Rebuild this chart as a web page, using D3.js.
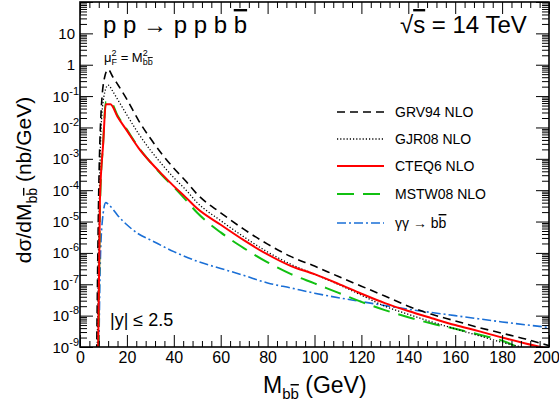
<!DOCTYPE html>
<html><head><meta charset="utf-8">
<script src="https://cdn.jsdelivr.net/npm/d3@7"></script>
<style>
body{margin:0;background:#fff}
text{font-family:"Liberation Sans",Arial,Helvetica,sans-serif;fill:#000}
</style>
</head><body>
<svg id="chart" width="559" height="419"></svg>
<script>
// ---------- data ----------
const massTicks = [0, 20, 40, 60, 80, 100, 120, 140, 160, 180, 200];
const decadeExponents = [-9, -8, -7, -6, -5, -4, -3, -2, -1, 0, 1];

const grv94Mass = [7.0, 8.0, 9.0, 10.5, 12, 14, 16, 20, 25, 30, 35, 40, 45, 50, 60, 70, 80, 90, 100, 110, 120, 130, 140, 150, 160, 170, 180, 190, 200];
const grv94Xsec = [1e-10, 1e-4, 3.2e-2, 0.40, 0.71, 0.41, 0.24, 7.9e-2, 1.66e-2, 4.5e-3, 1.4e-3, 5.0e-4, 2.0e-4, 7.4e-5, 1.9e-5, 5.6e-6, 1.9e-6, 7.6e-7, 3.8e-7, 1.8e-7, 8.7e-8, 4.2e-8, 2.0e-8, 1.1e-8, 6.8e-9, 4.2e-9, 2.75e-9, 1.8e-9, 1.1e-9];

const gjr08Mass = [7.2, 8.3, 9.0, 10.5, 12, 14, 16, 20, 25, 30, 35, 40, 45, 50, 60, 70, 80, 90, 100, 110, 120, 130, 140, 150, 160, 170, 180, 190, 196];
const gjr08Xsec = [1e-10, 1e-4, 1e-2, 0.126, 0.224, 0.141, 7.9e-2, 2.5e-2, 6.3e-3, 1.9e-3, 6.6e-4, 2.5e-4, 1.05e-4, 4.0e-5, 1.07e-5, 3.2e-6, 1.07e-6, 4.3e-7, 2.1e-7, 1.0e-7, 4.5e-8, 2.0e-8, 1.1e-8, 6.3e-9, 3.8e-9, 2.3e-9, 1.4e-9, 9e-10, 6e-10];

const cteq6Mass = [7.6, 8.5, 9.9, 11, 13, 16, 20, 25, 30, 35, 40, 45, 50, 60, 70, 80, 90, 100, 110, 120, 130, 140, 150, 160, 170, 180, 190, 198];
const cteq6Xsec = [1e-10, 5e-5, 3.2e-3, 0.055, 0.055, 0.022, 7.9e-3, 2.2e-3, 7.9e-4, 3.2e-4, 1.35e-4, 6.0e-5, 2.6e-5, 7.9e-6, 2.5e-6, 8.9e-7, 3.8e-7, 2.1e-7, 1.05e-7, 5.0e-8, 2.5e-8, 1.4e-8, 8.3e-9, 5.0e-9, 3.2e-9, 2.0e-9, 1.3e-9, 9.5e-10];

const mstw08Mass = [7.8, 8.6, 9.9, 11, 13, 16, 20, 25, 30, 35, 40, 45, 50, 60, 70, 80, 90, 100, 110, 120, 130, 140, 150, 160, 170, 180, 188];
const mstw08Xsec = [1e-10, 5e-5, 3.5e-3, 0.065, 0.065, 0.024, 8.5e-3, 2.3e-3, 7.9e-4, 3.0e-4, 1.26e-4, 5.0e-5, 1.9e-5, 4.5e-6, 1.4e-6, 5.0e-7, 2.1e-7, 1.07e-7, 5.4e-8, 2.75e-8, 1.5e-8, 8.9e-9, 5.6e-9, 3.8e-9, 2.5e-9, 1.6e-9, 8.9e-10];

const gamgamMass = [7.9, 8.6, 9.5, 11, 12, 14, 16, 20, 25, 30, 40, 50, 60, 70, 80, 90, 100, 120, 140, 160, 180, 200];
const gamgamXsec = [1e-10, 3.2e-7, 1e-5, 4.0e-5, 3.6e-5, 2.5e-5, 1.6e-5, 7.9e-6, 4.0e-6, 2.6e-6, 1.1e-6, 5.4e-7, 3.2e-7, 1.9e-7, 1.1e-7, 7.6e-8, 5.2e-8, 2.8e-8, 1.6e-8, 1.0e-8, 6.3e-9, 4.2e-9];

const seriesNames = ["GRV94 NLO", "GJR08 NLO", "CTEQ6 NLO", "MSTW08 NLO", "γγ → bb"];

// ---------- layout ----------
const svg = d3.select("#chart");
const L = 80, R = 549, T = 2, B = 347;
const x = d3.scaleLinear().domain([0, 200]).range([L, R]);
const y = d3.scaleLog().domain([1e-9, 1e2]).range([B, T]);

svg.append("rect").attr("width", 559).attr("height", 419).attr("fill", "#fff");

svg.append("defs").append("clipPath").attr("id", "plotclip")
  .append("rect").attr("x", L).attr("y", T).attr("width", R - L).attr("height", B - T);

// ---------- curves ----------
const styles = [
  {mass: grv94Mass, xs: grv94Xsec, color: "#000", width: 1.6, dash: "8,5"},
  {mass: gjr08Mass, xs: gjr08Xsec, color: "#000", width: 1.3, dash: "1.2,2"},
  {mass: cteq6Mass, xs: cteq6Xsec, color: "#ff0000", width: 2, dash: null},
  {mass: mstw08Mass, xs: mstw08Xsec, color: "#11c011", width: 2, dash: "17,9"},
  {mass: gamgamMass, xs: gamgamXsec, color: "#1a6fd6", width: 1.6, dash: "9,3,2,3"}
];
const line = d3.line().x(d => x(d[0])).y(d => y(d[1])).curve(d3.curveMonotoneX);
const plot = svg.append("g").attr("clip-path", "url(#plotclip)");
[4, 3, 1, 0, 2].forEach(i => {
  const s = styles[i];
  plot.append("path")
    .attr("d", line(d3.zip(s.mass, s.xs)))
    .attr("fill", "none").attr("stroke", s.color).attr("stroke-width", s.width)
    .attr("stroke-dasharray", s.dash);
});

// ---------- axes ----------
const majorX = massTicks;
const minorX = d3.range(0, 201, 4).filter(v => v % 20 !== 0);
const majorY = d3.range(-9, 3).map(e => Math.pow(10, e));
const minorY = [];
for (let e = -9; e < 2; e++) for (let k = 2; k <= 9; k++) minorY.push(k * Math.pow(10, e));

function styleAxis(g) {
  g.select(".domain").remove();
  g.selectAll("line").attr("stroke", "#000").attr("stroke-width", 1);
}

svg.append("g").attr("transform", `translate(0,${B})`)
  .call(d3.axisBottom(x).tickValues(majorX).tickSize(-12).tickPadding(5).tickFormat(d => d))
  .call(styleAxis)
  .call(g => g.selectAll("text").attr("font-size", 16).attr("fill", "#000")
      .style("font-family", '"Liberation Sans",Arial,sans-serif'))
  .call(g => g.selectAll("text").filter(d => d === 200).attr("dx", -3));
svg.append("g").attr("transform", `translate(0,${B})`)
  .call(d3.axisBottom(x).tickValues(minorX).tickSize(-6).tickFormat(""))
  .call(styleAxis);
svg.append("g").attr("transform", `translate(0,${T})`)
  .call(d3.axisTop(x).tickValues(majorX).tickSize(-12).tickFormat(""))
  .call(styleAxis);
svg.append("g").attr("transform", `translate(0,${T})`)
  .call(d3.axisTop(x).tickValues(minorX).tickSize(-6).tickFormat(""))
  .call(styleAxis);

svg.append("g").attr("transform", `translate(${L},0)`)
  .call(d3.axisLeft(y).tickValues(majorY).tickSize(-13).tickFormat(""))
  .call(styleAxis);
svg.append("g").attr("transform", `translate(${L},0)`)
  .call(d3.axisLeft(y).tickValues(minorY).tickSize(-7).tickFormat(""))
  .call(styleAxis);
svg.append("g").attr("transform", `translate(${R},0)`)
  .call(d3.axisRight(y).tickValues(majorY).tickSize(-13).tickFormat(""))
  .call(styleAxis);
svg.append("g").attr("transform", `translate(${R},0)`)
  .call(d3.axisRight(y).tickValues(minorY).tickSize(-7).tickFormat(""))
  .call(styleAxis);

// y tick labels (ROOT style 10^n)
const ylab = svg.append("g");
decadeExponents.forEach(e => {
  const v = Math.pow(10, e);
  const t = ylab.append("text").attr("y", y(v) + 5.5).attr("font-size", 15).attr("text-anchor", "end");
  if (e === 0) { t.attr("x", 75).text("1"); }
  else if (e === 1) { t.attr("x", 75).text("10"); }
  else {
    t.attr("x", 79);
    t.append("tspan").text("10");
    t.append("tspan").attr("font-size", 11).attr("dy", -7).text(String(e));
  }
});

// frame
svg.append("rect").attr("x", L).attr("y", T).attr("width", R - L).attr("height", B - T)
  .attr("fill", "none").attr("stroke", "#000").attr("stroke-width", 1.6);

// ---------- texts ----------
const title = svg.append("text").attr("x", 103).attr("y", 33).attr("font-size", 24)
  .attr("xml:space", "preserve");
title.append("tspan").text("p p → p p b ");
title.append("tspan").attr("text-decoration", "overline").text("b");

const rs = svg.append("text").attr("x", 400).attr("y", 33).attr("font-size", 24);
rs.append("tspan").text("√");
rs.append("tspan").attr("text-decoration", "overline").text("s");
rs.append("tspan").text(" = 14 TeV");

const mu = svg.append("text").attr("x", 104).attr("y", 62).attr("font-size", 13);
mu.append("tspan").text("μ");
mu.append("tspan").attr("font-size", 9).attr("dy", -6).text("2");
mu.append("tspan").attr("font-size", 9).attr("dx", -5).attr("dy", 9).text("F");
mu.append("tspan").attr("dy", -3).text(" = M");
mu.append("tspan").attr("font-size", 9).attr("dy", -6).text("2");
mu.append("tspan").attr("font-size", 9).attr("dx", -5).attr("dy", 9).text("b");
mu.append("tspan").attr("font-size", 9).attr("text-decoration", "overline").text("b");

svg.append("text").attr("x", 110).attr("y", 326).attr("font-size", 18).text("|y| ≤ 2.5");

const xt = svg.append("text").attr("x", 263).attr("y", 393).attr("font-size", 23);
xt.append("tspan").text("M");
xt.append("tspan").attr("font-size", 15).attr("dy", 6).text("b");
xt.append("tspan").attr("font-size", 15).attr("text-decoration", "overline").text("b");
xt.append("tspan").attr("dy", -6).text(" (GeV)");

const yt = svg.append("text").attr("transform", "translate(31,180) rotate(-90)")
  .attr("text-anchor", "middle").attr("font-size", 21);
yt.append("tspan").text("dσ/dM");
yt.append("tspan").attr("font-size", 14).attr("dy", 6).text("b");
yt.append("tspan").attr("font-size", 14).attr("text-decoration", "overline").text("b");
yt.append("tspan").attr("dy", -6).text(" (nb/GeV)");

// ---------- legend ----------
const legY = [112, 139, 166, 194, 223];
const leg = svg.append("g");
styles.forEach((s, i) => {
  leg.append("line").attr("x1", 337).attr("x2", 384).attr("y1", legY[i]).attr("y2", legY[i])
    .attr("stroke", s.color).attr("stroke-width", s.width).attr("stroke-dasharray", s.dash);
  const t = leg.append("text").attr("x", 395).attr("y", legY[i] + 5).attr("font-size", 14);
  if (i < 4) t.text(seriesNames[i]);
  else {
    t.append("tspan").text("γγ → b");
    t.append("tspan").attr("text-decoration", "overline").text("b");
  }
});
</script>
</body></html>
